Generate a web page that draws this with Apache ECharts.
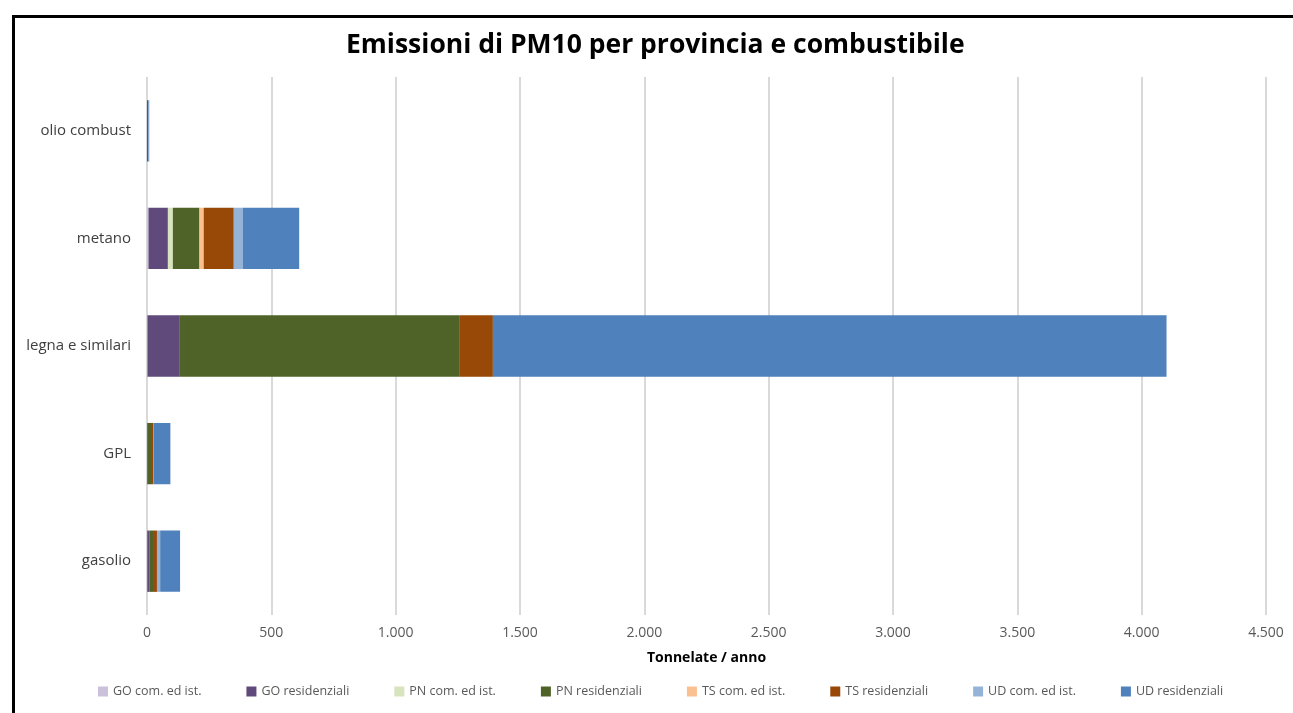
<!DOCTYPE html>
<html>
<head>
<meta charset="utf-8">
<script src="https://cdn.jsdelivr.net/npm/echarts@6/dist/echarts.min.js"></script>
<style>
html, body { margin: 0; padding: 0; background: #fff; }
#myChart { width: 1293px; height: 713px; }
</style>
</head>
<body>
<div id="myChart"></div>
<script>
// categorie (dal basso verso l'alto)
const categories = ['gasolio', 'GPL', 'legna e similari', 'metano', 'olio combust'];
const xTicks = [0, 500, 1000, 1500, 2000, 2500, 3000, 3500, 4000, 4500];

const seriesNames = ['GO com. ed ist.', 'GO residenziali', 'PN com. ed ist.', 'PN residenziali',
    'TS com. ed ist.', 'TS residenziali', 'UD com. ed ist.', 'UD residenziali'];
const seriesColors = ['#CCC1DA', '#604A7B', '#D7E4BD', '#4F6228', '#FAC090', '#984807', '#95B3D7', '#4F81BD'];

// valori, tonnellate / anno
const goCom = [1, 0, 2, 6, 0];
const goRes = [10, 3, 130, 78, 5];
const pnCom = [0, 0, 0, 20, 0];
const pnRes = [17, 13, 1126, 107, 0];
const tsCom = [0, 0, 0, 17, 0];
const tsRes = [12, 9, 133, 121, 0];
const udCom = [13, 1, 0, 36, 1];
const udRes = [80, 68, 2709, 227, 3];

const seriesData = [goCom, goRes, pnCom, pnRes, tsCom, tsRes, udCom, udRes];

const myChart = echarts.init(document.getElementById('myChart'));

const fmt = v => String(v).replace(/\B(?=(\d{3})+(?!\d))/g, '.');

const option = {
    animation: false,
    title: {
        text: 'Emissioni di PM10 per provincia e combustibile',
        left: 346,
        top: 32,
        padding: 0,
        textStyle: {
            fontFamily: 'Open Sans',
            fontSize: 26.5,
            fontWeight: 'bold',
            color: '#000'
        }
    },
    graphic: [{
        type: 'rect',
        left: 11,
        top: 14,
        shape: { width: 1300, height: 720 },
        style: { fill: 'none', stroke: '#000', lineWidth: 3 },
        silent: true
    }],
    legend: {
        bottom: 10,
        left: 93,
        itemWidth: 10,
        itemHeight: 10,
        itemGap: 45,
        icon: 'rect',
        data: seriesNames,
        textStyle: {
            fontFamily: 'Open Sans',
            fontSize: 12.5,
            color: '#595959'
        }
    },
    grid: {
        left: 147,
        right: 27,
        top: 77,
        bottom: 98
    },
    xAxis: {
        type: 'value',
        min: xTicks[0],
        max: xTicks[xTicks.length - 1],
        interval: 500,
        name: 'Tonnelate / anno',
        nameLocation: 'middle',
        nameGap: 36,
        nameTextStyle: {
            fontFamily: 'Open Sans',
            fontSize: 14,
            fontWeight: 'bold',
            color: '#000'
        },
        axisLabel: {
            formatter: fmt,
            fontFamily: 'Open Sans',
            fontSize: 14,
            color: '#595959',
            margin: 11
        },
        axisLine: { show: false },
        axisTick: { show: false },
        splitLine: {
            show: true,
            lineStyle: { color: '#D9D9D9', width: 2 }
        }
    },
    yAxis: {
        type: 'category',
        data: categories,
        axisLabel: {
            fontFamily: 'Open Sans',
            fontSize: 15,
            color: '#404040',
            margin: 16
        },
        axisLine: { show: false },
        axisTick: { show: false }
    },
    series: seriesNames.map((name, i) => ({
        name: name,
        type: 'bar',
        stack: 'totale',
        barWidth: '57%',
        color: seriesColors[i],
        data: seriesData[i]
    }))
};

myChart.setOption(option);

window.addEventListener('resize', () => {
    myChart.resize();
});
</script>
</body>
</html>
